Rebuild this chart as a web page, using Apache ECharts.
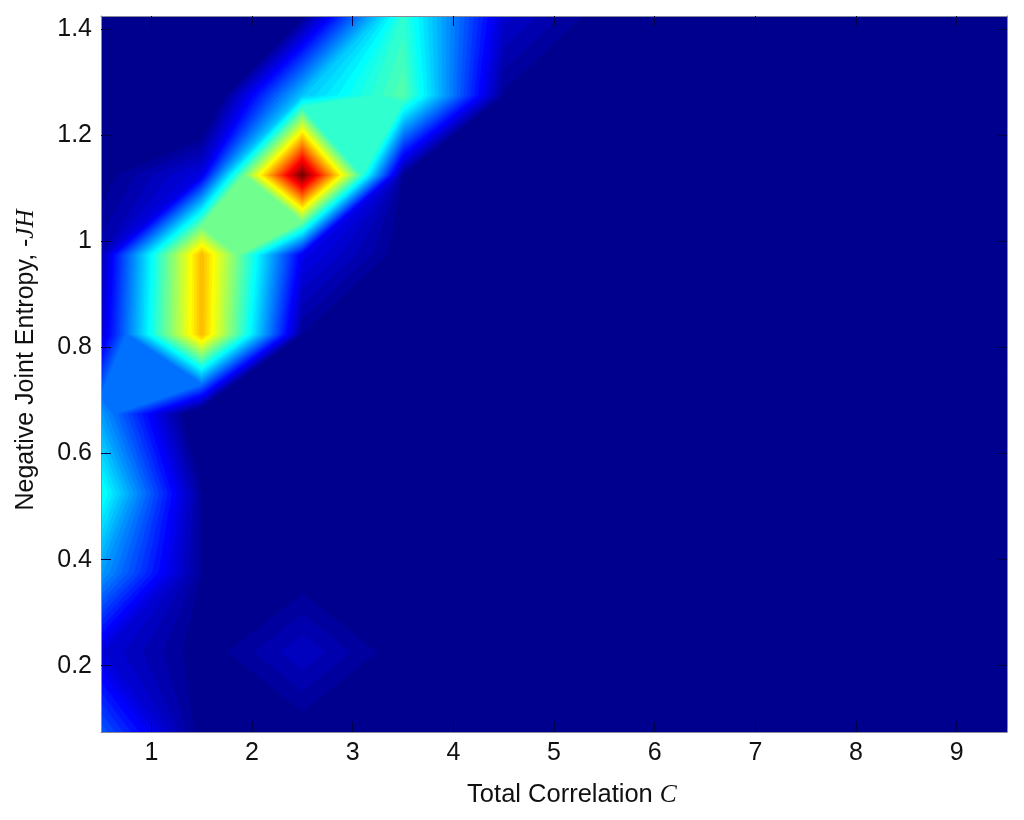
<!DOCTYPE html>
<html>
<head>
<meta charset="utf-8">
<style>
html, body { margin: 0; padding: 0; background: #fff; }
#main { width: 1024px; height: 820px; }
</style>
<script src="https://cdn.jsdelivr.net/npm/echarts@6/dist/echarts.min.js"></script>
</head>
<body>
<div id="main"></div>
<script>
// grid nodes of the surface
const xNodes = [0.5, 1.5, 2.5, 3.5, 4.5, 5.5, 6.5, 7.5, 8.5, 9.5];
const yNodes = [0.075, 0.225, 0.375, 0.525, 0.675, 0.825, 0.975, 1.125, 1.275, 1.425];

// values, normalised to the colour scale, bottom row first
const row075 = [0.2, 0, 0, 0, 0, 0, 0, 0, 0, 0];
const row225 = [0.08, 0, 0.06, 0, 0, 0, 0, 0, 0, 0];
const row375 = [0.27, 0.014, 0, 0, 0, 0, 0, 0, 0, 0];
const row525 = [0.385, 0.014, 0, 0, 0, 0, 0, 0, 0, 0];
const row675 = [0.27, -0.05, 0, 0, 0, 0, 0, 0, 0, 0];
const row825 = [0.07, 0.685, 0.014, 0, 0, 0, 0, 0, 0, 0];
const row975 = [0.04, 0.685, 0.1, 0, 0, 0, 0, 0, 0, 0];
const row1125 = [0, 0.09, 1, 0.01, 0, 0, 0, 0, 0, 0];
const row1275 = [0, -0.08, 0.31, 0.45, 0.012, 0, 0, 0, 0, 0];
const row1425 = [0, 0, 0, 0.41, 0.07, 0, 0, 0, 0, 0];
const zRows = [row075, row225, row375, row525, row675, row825, row975, row1125, row1275, row1425];

// saddle cells: column, row, level where the contour changes topology (makes the flat patches)
const saddleCells = [[0, 4, 0.227], [1, 6, 0.477], [2, 7, 0.414]];

const xTicks = [1, 2, 3, 4, 5, 6, 7, 8, 9];
const yTicks = [0.2, 0.4, 0.6, 0.8, 1, 1.2, 1.4];

const levelCount = 64;
const levels = [];
for (let k = 1; k < levelCount; k++) levels.push([k, 0]);

// matlab jet(64)
function jetColor(k) {
    const ramp = v => Math.round(255 * Math.max(0, Math.min(1, v)));
    const r = ramp(Math.min((k - 23) / 16, (63 - k) / 16 + 0.5));
    const g = ramp(Math.min((k - 7) / 16, (55 - k) / 16));
    const b = ramp(Math.min((k + 9) / 16, (39 - k) / 16));
    return 'rgb(' + r + ',' + g + ',' + b + ')';
}

function crossing(p, q, level) {
    const t = (level - p[2]) / (q[2] - p[2]);
    return [p[0] + (q[0] - p[0]) * t, p[1] + (q[1] - p[1]) * t];
}

function saddleLevel(i, j, corners) {
    for (const s of saddleCells) {
        if (s[0] === i && s[1] === j) return s[2];
    }
    return (corners[0][2] + corners[1][2] + corners[2][2] + corners[3][2]) / 4;
}

// region of one cell where z >= level
function cellPolygons(i, j, level) {
    const corners = [
        [xNodes[i], yNodes[j], zRows[j][i]],
        [xNodes[i + 1], yNodes[j], zRows[j][i + 1]],
        [xNodes[i + 1], yNodes[j + 1], zRows[j + 1][i + 1]],
        [xNodes[i], yNodes[j + 1], zRows[j + 1][i]]
    ];
    const high = corners.map(c => c[2] >= level);
    const count = high.filter(h => h).length;
    if (count === 0) return [];
    const isSaddle = count === 2 && high[0] === high[2];
    if (isSaddle && saddleLevel(i, j, corners) < level) {
        const polys = [];
        for (let n = 0; n < 4; n++) {
            if (!high[n]) continue;
            const prev = corners[(n + 3) % 4], next = corners[(n + 1) % 4];
            polys.push([crossing(prev, corners[n], level), corners[n], crossing(corners[n], next, level)]);
        }
        return polys;
    }
    const pts = [];
    for (let n = 0; n < 4; n++) {
        const m = (n + 1) % 4;
        if (high[n]) pts.push(corners[n]);
        if (high[n] !== high[m]) pts.push(crossing(corners[n], corners[m], level));
    }
    return [pts];
}

function renderLevel(params, api) {
    const k = api.value(0);
    const level = k / levelCount;
    const color = jetColor(k);
    const children = [];
    for (let j = 0; j < yNodes.length - 1; j++) {
        for (let i = 0; i < xNodes.length - 1; i++) {
            for (const poly of cellPolygons(i, j, level)) {
                children.push({
                    type: 'polygon',
                    shape: { points: poly.map(p => api.coord([p[0], p[1]])) },
                    style: { fill: color, stroke: color, lineWidth: 0.7 }
                });
            }
        }
    }
    return { type: 'group', children: children };
}

const labelFont = 'Liberation Sans';
const serifFont = 'Liberation Serif';

function boxAxis(position, min, max, ticks, showLabels) {
    return {
        type: 'value',
        position: position,
        min: min,
        max: max,
        z: 5,
        splitLine: { show: false },
        axisLine: { show: true, onZero: false, lineStyle: { color: '#8a8a99', width: 1 } },
        axisTick: { show: true, inside: true, length: 10, customValues: ticks, lineStyle: { color: '#00004a', width: 1 } },
        axisLabel: { show: showLabels, customValues: ticks, color: '#111', fontFamily: labelFont, fontSize: 25, margin: 9 }
    };
}

let myChart = echarts.init(document.querySelector('#main'), null, { renderer: 'canvas' });
let option = {
    animation: false,
    backgroundColor: '#fff',
    // lowest colour band is the grid background
    grid: { show: true, left: 101, right: 17, top: 16, bottom: 88, backgroundColor: jetColor(0), borderWidth: 0 },
    xAxis: [boxAxis('bottom', 0.5, 9.5, xTicks, true), boxAxis('top', 0.5, 9.5, xTicks, false)],
    yAxis: [boxAxis('left', 0.075, 1.425, yTicks, true), boxAxis('right', 0.075, 1.425, yTicks, false)],
    series: [
        {
            type: 'custom',
            clip: true,
            silent: true,
            renderItem: renderLevel,
            data: levels
        }
    ],
    graphic: [
        {
            type: 'text',
            x: 572,
            y: 795,
            silent: true,
            style: {
                text: 'Total Correlation {i|C}',
                fill: '#111',
                font: '25.5px "Liberation Sans"',
                align: 'center',
                verticalAlign: 'middle',
                rich: { i: { fontFamily: serifFont, fontStyle: 'italic', fontSize: 25.5, fill: '#111' } }
            }
        },
        {
            type: 'text',
            x: 26,
            y: 360,
            rotation: Math.PI / 2,
            silent: true,
            style: {
                text: 'Negative Joint Entropy, -{i|JH}',
                fill: '#111',
                font: '25px "Liberation Sans"',
                align: 'center',
                verticalAlign: 'middle',
                rich: { i: { fontFamily: serifFont, fontStyle: 'italic', fontSize: 25, fill: '#111' } }
            }
        }
    ]
};
myChart.setOption(option);
</script>
</body>
</html>
